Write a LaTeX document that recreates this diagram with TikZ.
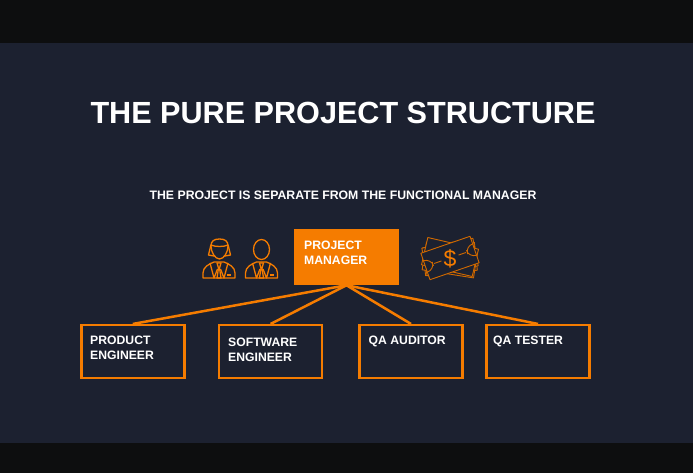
\documentclass[tikz,border=0pt]{standalone}
\usepackage{fontspec}
\setmainfont{Liberation Sans}
\usetikzlibrary{positioning}
\definecolor{slate}{HTML}{1C2130}
\definecolor{barblack}{HTML}{0D0E0F}
\definecolor{porange}{HTML}{F57C00}
\tikzset{
 pbox/.style={draw=porange,line width=2.5pt,minimum width=103pt,minimum height=53pt,inner sep=0pt},
 ptext/.style={text=white,font=\bfseries\fontsize{12.2}{15}\selectfont,align=left,inner sep=0pt},
 link/.style={draw=porange,line width=2.5pt},
 icon/.style={draw=porange,line width=1.3pt,line join=round},
 billline/.style={draw=porange!85!black,line width=0.9pt,line join=round},
 bodyicon/.pic={
 \draw[icon] (-16,0) -- (16,0) -- (16,-5) .. controls (16,-11) and (10,-14) .. (5,-16) -- (-5,-16) .. controls (-10,-14) and (-16,-11) .. (-16,-5) -- cycle;
 \draw[icon] (-9,-15) -- (-5,0) -- (-1.5,-9) (9,-15) -- (5,0) -- (1.5,-9);
 \draw[icon] (-2,-15) -- (2,-15) -- (0.5,-10) -- (2,0) -- (-2,0) -- (-0.5,-10) -- cycle;
 \draw[icon] (8,-3) -- (12,-3);
 },
 billicon/.pic={
 \draw[billline,fill=slate] (-26,-14) rectangle (26,14);
 }
}
\begin{document}
\begin{tikzpicture}[x=1pt,y=-1pt]
 \useasboundingbox (0,0) rectangle (693,473);
 \fill[slate] (0,0) rectangle (693,473);
 \fill[barblack] (0,0) rectangle (693,43);
 \fill[barblack] (0,443) rectangle (693,473);
 % titles
 \node[ptext,font=\bfseries\fontsize{30.6}{36}\selectfont] (title) at (343,113) {THE PURE PROJECT STRUCTURE};
 \node[ptext,font=\bfseries\fontsize{12.27}{15}\selectfont] (subtitle) at (343,195) {THE PROJECT IS SEPARATE FROM THE FUNCTIONAL MANAGER};
 % boxes
 \node[pbox,fill=porange,minimum width=103pt,minimum height=54pt] (manager) at (346.5,257) {};
 \node[pbox] (product) at (132.8,351.7) {};
 \node[pbox] (software) at (270.6,351.7) {};
 \node[pbox] (auditor) at (411,351.7) {};
 \node[pbox] (tester) at (538,351.7) {};
 % labels
 \node[ptext,anchor=north west] (managertext) at (304,240.5) {PROJECT\\MANAGER};
 \node[ptext,anchor=north west] (producttext) at (90,336) {PRODUCT\\ENGINEER};
 \node[ptext,anchor=north west] (softwaretext) at (228,338) {SOFTWARE\\ENGINEER};
 \node[ptext,anchor=north west] (auditortext) at (368.5,336) {QA AUDITOR};
 \node[ptext,anchor=north west] (testertext) at (493,336) {QA TESTER};
 % links
 \draw[link] (manager.south) -- (product.north);
 \draw[link] (manager.south) -- (software.north);
 \draw[link] (manager.south) -- (auditor.north);
 \draw[link] (manager.south) -- (tester.north);
 % people
 \pic at (219,278) {bodyicon};
 \pic at (261.5,278) {bodyicon};
 \draw[icon] (211,246) .. controls (211,241) and (214,239) .. (219.5,239) .. controls (225,239) and (228,241) .. (228,246) .. controls (228,252) and (224,259) .. (219.5,259) .. controls (215,259) and (211,252) .. (211,246) -- cycle;
 \draw[icon] (211,244.5) -- (208.5,255) -- (214,256) (228,244.5) -- (230.5,255) -- (225,256);
 \draw[icon] (211,245) .. controls (215,247) and (224,247) .. (228,245);
 \draw[icon] (261.5,249.5) ellipse (8 and 10);
 % money
 \begin{scope}[shift={(450,258)}]
 \pic[rotate=6] at (0,1) {billicon};
 \pic[rotate=11] at (0,-1) {billicon};
 \pic[rotate=-9] at (0,2) {billicon};
 \pic[rotate=-13] at (0,-1) {billicon};
 \begin{scope}[rotate=19]
 \draw[billline,fill=slate] (-26,-14) rectangle (26,14);
 \draw[billline] (-26,-6) arc[start angle=-90,end angle=0,radius=8]
 (26,-6) arc[start angle=270,end angle=180,radius=8]
 (-26,6) arc[start angle=90,end angle=0,radius=8]
 (26,6) arc[start angle=90,end angle=180,radius=8];
 \draw[billline] (-17,0) -- (-9,0) (9,0) -- (17,0);
 \end{scope}
 \node[text=porange,font=\fontsize{23}{23}\selectfont,inner sep=0pt] (dollar) at (0,0.5) {\$};
 \end{scope}
\end{tikzpicture}
\end{document}
